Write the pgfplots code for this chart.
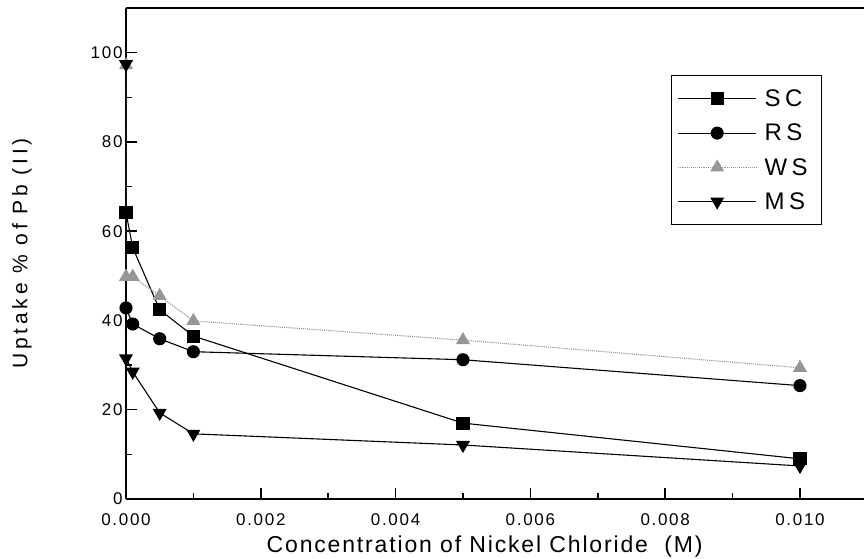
\documentclass[border=0pt]{standalone}
\usepackage{fontspec}
\setmainfont{Liberation Sans}
\newfontfamily\tickfont{Liberation Sans}[LetterSpace=10]
\newfontfamily\labfont{Liberation Sans}[LetterSpace=8]
\newfontfamily\ylabfont{Liberation Sans}[LetterSpace=18]
\newfontfamily\legfont{Liberation Sans}[LetterSpace=18]
\usepackage{pgfplots}
\pgfplotsset{compat=1.18}
\definecolor{wsgray}{RGB}{150,150,150}
\begin{document}
\begin{tikzpicture}
\useasboundingbox (-126pt,-59pt) rectangle (738pt,499pt);
\begin{axis}[
  scale only axis, width=738pt, height=491pt,
  xmin=0, xmax=0.01095, ymin=0, ymax=110,
  axis x line=box, axis y line=left,
  axis line style={-, line width=1.6pt},
  every outer x axis line/.append style={-},
  every outer y axis line/.append style={-},
  xtick={0,0.002,0.004,0.006,0.008,0.010},
  minor xtick={0.001,0.003,0.005,0.007,0.009},
  ytick={0,20,40,60,80,100},
  minor ytick={10,30,50,70,90},
  tick align=inside, xtick pos=bottom, ytick pos=left,
  major tick length=11pt, minor tick length=6pt,
  every tick/.style={line width=1.5pt, black},
  scaled x ticks=false,
  xticklabel style={/pgf/number format/.cd, fixed, fixed zerofill, precision=3, /tikz/.cd, yshift=-11pt},
  /pgf/number format/assume math mode=true,
  tick label style={font=\fontsize{17}{17}\selectfont\tickfont},
  xlabel={Concentration of Nickel Chloride \ (M)},
  ylabel={Uptake \% of Pb (II)},
  every axis x label/.style={at={(axis description cs:0.486,-0.097)}, anchor=center, font=\fontsize{23}{23}\selectfont\labfont},
  every axis y label/.style={at={(axis description cs:-0.141,0.5)}, rotate=90, anchor=center, font=\fontsize{21}{21}\selectfont\ylabfont},
  legend style={at={(rel axis cs:0.7385,0.8635)}, anchor=north west, draw=black, line width=1.4pt, font=\fontsize{24}{24}\selectfont\legfont, inner xsep=6pt, inner ysep=12pt, row sep=12pt},
  legend cell align=left,
  legend image code/.code={\draw[mark repeat=2,mark phase=2,line width=1pt,#1] plot coordinates {(0pt,0pt) (39pt,0pt) (78pt,0pt)};},
]
\addplot[black, line width=1.1pt, mark=square*, mark size=6pt, mark options={solid}] coordinates {
(0,64.2) (0.0001,56.3) (0.0005,42.4) (0.001,36.5) (0.005,17.0) (0.01,9.0)};
\addlegendentry{\hspace*{6pt}SC\hspace*{6pt}}
\addplot[black, line width=1.1pt, mark=*, mark size=6pt, mark options={solid}] coordinates {
(0,42.8) (0.0001,39.2) (0.0005,35.9) (0.001,33.0) (0.005,31.2) (0.01,25.4)};
\addlegendentry{\hspace*{6pt}RS\hspace*{6pt}}
\addplot[wsgray, densely dotted, line width=1.1pt, mark=triangle*, mark size=7pt, mark options={solid, fill=wsgray, draw=wsgray}] coordinates {
(0,97.2) (0,49.8) (0.0001,49.8) (0.0005,45.5) (0.001,39.9) (0.005,35.6) (0.01,29.4)};
\addlegendentry{\hspace*{6pt}WS\hspace*{6pt}}
\addplot[black, line width=1.1pt, mark=triangle*, mark size=7pt, mark options={solid, rotate=180}] coordinates {
(0,97.4) (0,31.5) (0.0001,28.5) (0.0005,19.3) (0.001,14.6) (0.005,12.1) (0.01,7.4)};
\addlegendentry{\hspace*{6pt}MS\hspace*{6pt}}
\end{axis}
\end{tikzpicture}
\end{document}
